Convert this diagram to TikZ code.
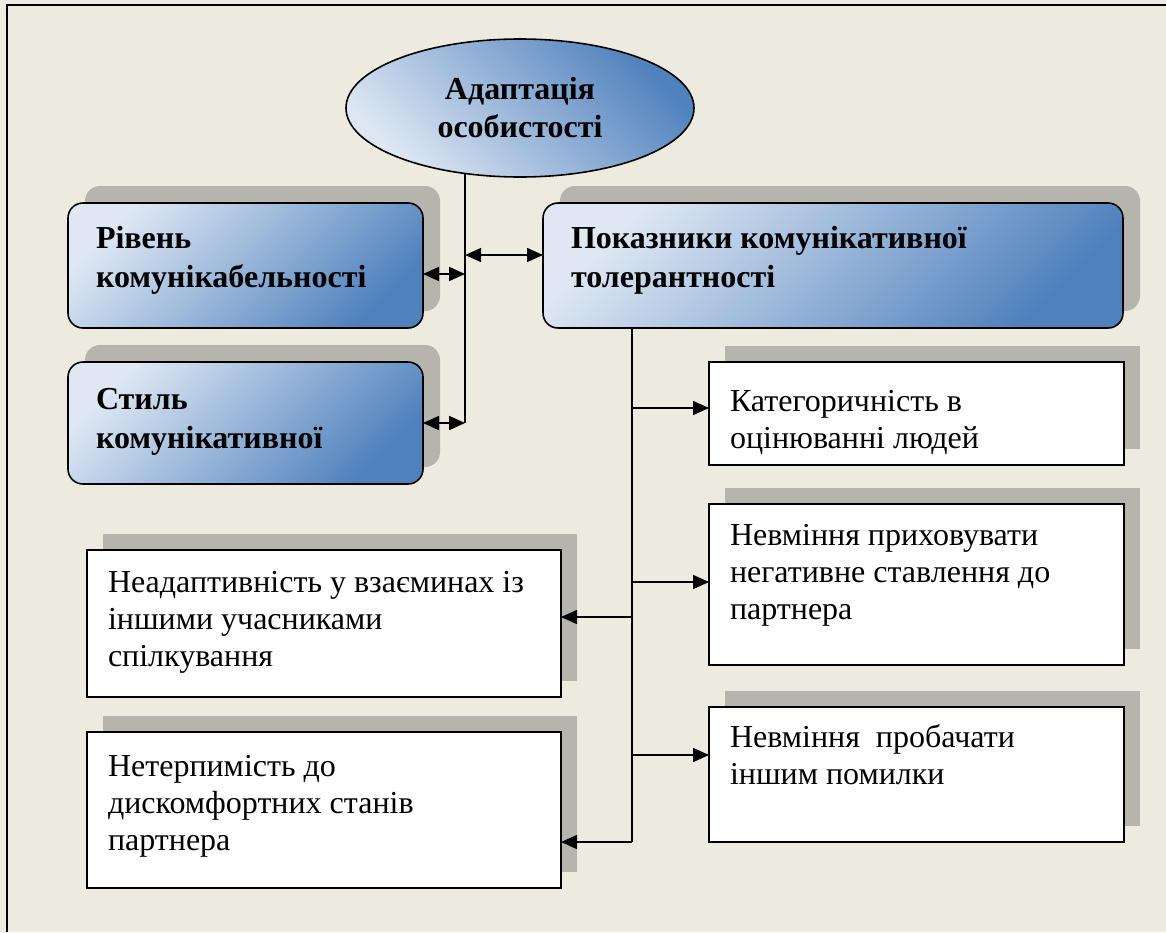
\documentclass[tikz,border=0pt]{standalone}
\usepackage{fontspec}
\setmainfont{Liberation Serif}
\usetikzlibrary{arrows.meta,shapes.geometric,shadows,calc}
\definecolor{bg}{RGB}{237,235,224}
\definecolor{shd}{RGB}{181,180,173}
\definecolor{lightblue}{RGB}{222,231,243}
\definecolor{darkblue}{RGB}{79,129,189}
\newcommand{\mlt}[1]{\parbox[t]{700pt}{\raggedright #1}}
\begin{document}
\begin{tikzpicture}[x=1pt,y=-1pt,
  every node/.style={inner sep=0pt, outer sep=0pt},
  bluebox/.style={draw=black, line width=1.6pt, rounded corners=15pt, anchor=north west,
    top color=lightblue, bottom color=darkblue, shading angle=45,
    general shadow={fill=shd, shadow xshift=17pt, shadow yshift=17pt}},
  whitebox/.style={draw=black, line width=1.6pt, fill=white, anchor=north west,
    general shadow={fill=shd, shadow xshift=16pt, shadow yshift=16pt}},
  btext/.style={anchor=base west, font=\fontsize{32}{39}\selectfont\bfseries},
  rtext/.style={anchor=base west, font=\fontsize{32}{37}\selectfont},
  conn/.style={line width=1.6pt},
  arr/.style={conn, -{Triangle[length=16pt,width=14pt]}},
  dbl/.style={conn, {Triangle[length=16pt,width=14pt]}-{Triangle[length=16pt,width=14pt]}},
]
\useasboundingbox (0,0) rectangle (1166,932);
\fill[bg] (0,0) rectangle (1166,932);
\draw[line width=2pt] (7,932) -- (7,5) -- (1166,5);

% ellipse
\node[ellipse, draw=black, line width=1.6pt, minimum width=348pt, minimum height=138pt,
  top color=darkblue, bottom color=lightblue, shading angle=-45,
  align=center, font=\fontsize{32}{38}\selectfont\bfseries] (ell) at (520,108) {Адаптація\\особистості};

% blue boxes
\node[bluebox, minimum width=355pt, minimum height=125pt] (riv) at (68,203) {};
\node[btext] (rivt) at (96,248) {\mlt{Рівень\\комунікабельності}};
\node[bluebox, minimum width=355pt, minimum height=122pt] (st) at (68,362) {};
\node[btext] (stt) at (96,409) {\mlt{Стиль\\комунікативної}};
\node[bluebox, minimum width=580pt, minimum height=125pt] (pok) at (543,203) {};
\node[btext] (pokt) at (571,248) {\mlt{Показники комунікативної\\толерантності}};

% white boxes right
\node[whitebox, minimum width=415pt, minimum height=103pt] (kat) at (709,362) {};
\node[rtext] (katt) at (730,411) {\mlt{Категоричність в\\оцінюванні людей}};
\node[whitebox, minimum width=415pt, minimum height=161pt] (nev1) at (709,504) {};
\node[rtext] (nev1t) at (730,545) {\mlt{Невміння приховувати\\негативне ставлення до\\партнера}};
\node[whitebox, minimum width=415pt, minimum height=135pt] (nev2) at (709,707) {};
\node[rtext] (nev2t) at (730,747) {\mlt{Невміння\ \ пробачати\\іншим помилки}};

% white boxes left
\node[whitebox, minimum width=474pt, minimum height=147pt] (l1) at (87,550) {};
\node[rtext] (l1t) at (108,592) {\mlt{Неадаптивність у взаєминах із\\іншими учасниками\\спілкування}};
\node[whitebox, minimum width=474pt, minimum height=156pt] (l2) at (87,732) {};
\node[rtext] (l2t) at (108,776) {\mlt{Нетерпимість до\\дискомфортних станів\\партнера}};

% left bus
\draw[conn] (ell.230) -- (ell.230 |- st.east);
\draw[dbl] ([yshift=-8.5pt]riv.east) -- ([yshift=-8.5pt]riv.east -| ell.230);
\draw[dbl] (st.east) -- (st.east -| ell.230);
\draw[dbl] ([yshift=10.5pt]pok.west -| ell.230) -- ([yshift=10.5pt]pok.west);

% right bus
\coordinate (bus) at (632,842);
\draw[conn] (pok.south -| bus) -- (bus);
\draw[arr] ([yshift=5.5pt]kat.west -| bus) -- ([yshift=5.5pt]kat.west);
\draw[arr] ([yshift=2.5pt]nev1.west -| bus) -- ([yshift=2.5pt]nev1.west);
\draw[arr] ([yshift=19.5pt]nev2.west -| bus) -- ([yshift=19.5pt]nev2.west);
\draw[arr] ([yshift=6.5pt]l1.east -| bus) -- ([yshift=6.5pt]l1.east);
\draw[arr] ([yshift=-32pt]l2.east -| bus) -- ([yshift=-32pt]l2.east);
\end{tikzpicture}
\end{document}
